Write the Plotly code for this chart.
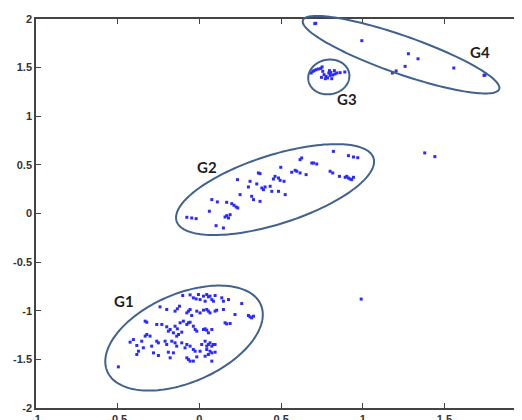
import numpy as np
import plotly.graph_objects as go

# ---- data ----
g1_x = [-0.102,-0.057,-0.037,-0.020,-0.006,0.004,0.025,0.035,0.045,0.055,0.065,0.076,0.086,0.096,0.137,0.147,0.178,0.259,0.300,0.310,0.320,0.331,0.218,0.157,0.167,0.188,
        -0.241,-0.200,-0.149,-0.135,-0.122,-0.077,-0.067,-0.057,-0.047,-0.016,0.004,0.025,0.045,0.055,0.065,0.096,0.106,0.147,-0.332,-0.322,-0.261,-0.230,-0.200,-0.179,-0.190,-0.149,-0.135,-0.118,-0.098,-0.077,-0.067,-0.057,-0.037,-0.026,-0.016,0.025,0.035,0.045,0.055,0.076,-0.108,-0.128,-0.139,-0.159,
        -0.424,-0.404,-0.383,-0.353,-0.332,-0.322,-0.302,-0.292,-0.261,-0.251,-0.210,-0.200,-0.169,-0.149,-0.139,-0.108,-0.088,-0.077,-0.057,-0.037,-0.026,0.004,0.014,0.035,0.045,0.055,0.065,0.076,0.086,0.096,0.045,0.065,0.076,0.096,-0.383,-0.373,-0.343,-0.281,-0.251,-0.190,-0.159,-0.179,-0.077,-0.067,-0.057,-0.037,-0.016,0.035,0.055,0.076,-0.496]
g1_y = [-0.843,-0.837,-0.867,-0.878,-0.833,-0.885,-0.850,-0.902,-0.833,-0.857,-0.850,-0.885,-0.902,-0.843,-0.867,-0.902,-0.885,-0.926,-1.049,-1.063,-1.073,-1.056,-1.039,-1.124,-1.135,-1.131,
        -0.960,-0.987,-1.004,-0.980,-0.953,-1.022,-1.004,-0.987,-1.049,-1.004,-1.022,-0.994,-0.987,-1.004,-1.022,-1.004,-0.994,-0.987,-1.107,-1.118,-1.141,-1.141,-1.165,-1.193,-1.210,-1.159,-1.186,-1.124,-1.107,-1.141,-1.124,-1.118,-1.159,-1.193,-1.210,-1.193,-1.186,-1.200,-1.227,-1.193,-1.220,-1.244,-1.261,-1.227,
        -1.323,-1.296,-1.357,-1.313,-1.261,-1.244,-1.261,-1.364,-1.313,-1.330,-1.313,-1.347,-1.313,-1.330,-1.364,-1.330,-1.381,-1.347,-1.364,-1.398,-1.416,-1.416,-1.347,-1.313,-1.364,-1.347,-1.330,-1.364,-1.347,-1.347,-1.398,-1.416,-1.433,-1.426,-1.450,-1.416,-1.381,-1.433,-1.460,-1.426,-1.433,-1.484,-1.484,-1.501,-1.518,-1.518,-1.474,-1.467,-1.450,-1.518,-1.577]

g2_x = [-0.077,-0.047,-0.020,0.061,0.076,0.110,0.102,0.147,0.167,0.157,0.167,0.188,0.178,0.198,0.212,0.225,0.235,0.249,0.233,0.310,0.300,0.320,0.331,0.351,0.361,0.371,0.382,0.371,0.392,0.402,0.433,0.443,0.453,0.463,0.484,0.494,0.484,0.498,0.518,0.525,0.565,0.586,0.596,0.616,0.626,0.616,0.653,0.688,0.698,0.718,0.820,0.800,0.816,0.857,0.892,0.902,0.912,0.922,0.932,0.943,0.912,0.943,0.969]
g2_y = [-0.039,-0.046,-0.053,0.023,0.143,0.119,-0.125,-0.149,0.115,-0.036,-0.022,-0.012,-0.046,0.101,0.084,0.067,0.057,0.194,0.348,0.331,0.273,0.177,0.143,0.304,0.417,0.125,0.262,0.410,0.245,0.273,0.280,0.228,0.355,0.382,0.365,0.341,0.228,0.475,0.331,0.194,0.424,0.444,0.434,0.554,0.571,0.417,0.400,0.519,0.519,0.509,0.639,0.434,0.417,0.382,0.372,0.382,0.365,0.355,0.348,0.372,0.595,0.581,0.574]

g3_x = [0.684,0.694,0.702,0.714,0.728,0.743,0.751,0.755,0.747,0.763,0.775,0.784,0.792,0.796,0.804,0.810,0.816,0.826,0.830,0.841,0.861,0.890,0.771,0.800]
g3_y = [1.445,1.462,1.469,1.479,1.486,1.492,1.507,1.462,1.400,1.428,1.410,1.394,1.445,1.469,1.451,1.386,1.424,1.469,1.435,1.445,1.448,1.455,1.386,1.420]

g4_x = [0.706,0.712,0.994,1.279,1.338,1.259,1.204,1.181,1.557,1.742,1.748]
g4_y = [1.952,1.956,1.777,1.643,1.591,1.513,1.466,1.445,1.496,1.420,1.425]

out_x = [1.379,1.441,0.990]
out_y = [0.623,0.585,-0.880]

x_ticks = [-1, -0.5, 0, 0.5, 1, 1.5]
x_tick_text = ["-1", "-0.5", "0", "0.5", "1", "1.5"]
y_ticks = [-2, -1.5, -1, -0.5, 0, 0.5, 1, 1.5, 2]
y_tick_text = ["-2", "-1.5", "-1", "-0.5", "0", "0.5", "1", "1.5", "2"]

group_labels = ["G1", "G2", "G3", "G4"]
label_x = [-0.464, 0.047, 0.901, 1.718]
label_y = [-0.895, 0.476, 1.176, 1.659]

# ellipse: center (data), semi-axes (px), angle (deg, screen)
ell_cx = [-0.094, 0.463, 0.792, 1.234]
ell_cy = [-1.281, 0.246, 1.404, 1.633]
ell_a = [83.7, 103.4, 20.7, 104.0]
ell_b = [44.2, 34.3, 17.3, 19.0]
ell_ang = [23.5, 17.8, 10.0, -19.3]

# ---- layout geometry (page body has an 8px default margin) ----
W, H = 514, 412
ML, MR, MT, MB = 28, 0, 11, 12
XMIN = -1.0
PX_X = 163.4
XMAX = XMIN + (W - ML - MR) / PX_X
YMIN, YMAX = -2.0, 2.0
PX_Y = (H - MT - MB) / (YMAX - YMIN)

fig = go.Figure()

# ellipses as paper-referenced paths (so they are not clipped by the axes frame)
t = np.linspace(0, 2 * np.pi, 160)
for cx, cy, a, b, ang in zip(ell_cx, ell_cy, ell_a, ell_b, ell_ang):
    th = np.radians(ang)
    dx = a * np.cos(t) * np.cos(th) - b * np.sin(t) * np.sin(th)
    dy = a * np.cos(t) * np.sin(th) + b * np.sin(t) * np.cos(th)
    xs = (cx + dx / PX_X - XMIN) / (XMAX - XMIN)
    ys = (cy + dy / PX_Y - YMIN) / (YMAX - YMIN)
    path = "M " + " L ".join(f"{px:.5f},{py:.5f}" for px, py in zip(xs, ys)) + " Z"
    fig.add_shape(type="path", path=path, xref="paper", yref="paper",
                  line=dict(color="#41628c", width=2), layer="above")

all_x = g1_x + g2_x + g3_x + g4_x + out_x
all_y = g1_y + g2_y + g3_y + g4_y + out_y
fig.add_trace(go.Scatter(x=all_x, y=all_y, mode="markers",
                         marker=dict(color="#2b2bff", size=3, symbol="square"),
                         showlegend=False))

for txt, lx, ly in zip(group_labels, label_x, label_y):
    fig.add_annotation(x=lx, y=ly, text=txt, showarrow=False,
                       font=dict(family="Lato, Open Sans, sans-serif", size=15,
                                 color="#1e1e1e", weight="bold"))

fig.update_xaxes(range=[XMIN, XMAX], tickvals=x_ticks, ticktext=x_tick_text,
                 showgrid=False, zeroline=False, showline=True, linecolor="#444",
                 linewidth=1.5, ticks="inside", ticklen=5, tickcolor="#444",
                 mirror="ticks", automargin=False,
                 tickfont=dict(family="Liberation Sans, Arial", size=11, color="#333", weight="bold"))
fig.update_yaxes(range=[YMIN, YMAX], tickvals=y_ticks, ticktext=y_tick_text,
                 showgrid=False, zeroline=False, showline=True, linecolor="#444",
                 linewidth=1.5, ticks="inside", ticklen=5, tickcolor="#444",
                 automargin=False,
                 tickfont=dict(family="Liberation Sans, Arial", size=11, color="#333", weight="bold"))

fig.update_layout(width=W, height=H, margin=dict(l=ML, r=MR, t=MT, b=MB, autoexpand=False),
                  plot_bgcolor="white", paper_bgcolor="white")

fig.write_html("out.html")
